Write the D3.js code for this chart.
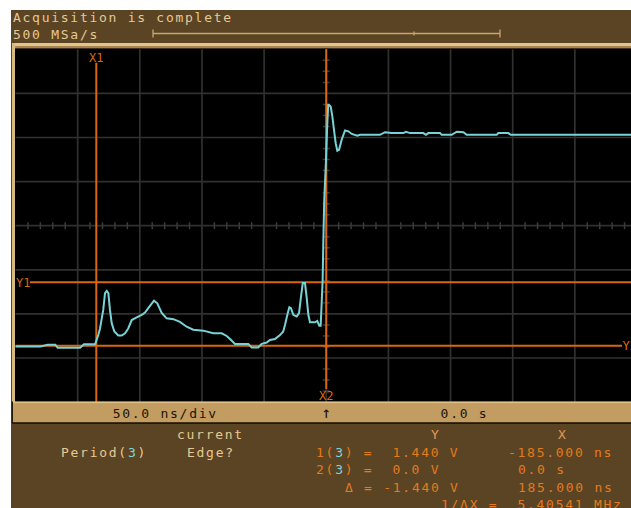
<!DOCTYPE html>
<html>
<head>
<meta charset="utf-8">
<script src="https://cdn.jsdelivr.net/npm/d3@7"></script>
<style>
  html, body { margin: 0; padding: 0; background: #ffffff; }
  svg { display: block; }
  text { font-family: "DejaVu Sans Mono", "Liberation Mono", monospace; white-space: pre; }
</style>
</head>
<body>
<svg id="scope" width="631" height="508"></svg>
<script>
// ---- captured trace: time (ns) and channel 3 voltage (V) ----
const timeNs = [
  -250, -230, -224, -218, -216, -198, -195, -186, -185, -183.4,
  -182.0, -180.6, -179.4, -178.0, -176.6, -175.3, -174.0, -172.6, -170.5, -167.3,
  -164.6, -161.9, -159.3, -156.5, -152.5, -148.5, -145.8, -143.2, -138.6, -135.9,
  -132.4, -128.4, -123.0, -117.7, -112.3, -107.0, -98.9, -90.9, -84.1, -80.1,
  -77.4, -73.4, -62.7, -60.0, -54.7, -51.9, -47.9, -45.3, -41.2, -37.2,
  -34.6, -33.2, -31.3, -29.7, -28.4, -26.5, -23.8, -21.9, -20.3, -18.9,
  -17.1, -15.7, -14.4, -13.1, -9.1, -7.2, -5.6, -4.5, -3.7, -2.9,
  -2.4, -1.6, -0.2, 0.8, 1.6, 2.2, 3.6, 4.9, 6.2, 7.6,
  8.9, 10.3, 12.4, 15.1, 17.8, 20.5, 25.0, 27.2, 43.2, 47.3,
  52.6, 62.0, 64.2, 67.4, 78.1, 80.2, 82.1, 91.5, 92.9, 100.9,
  105.0, 110.3, 113.0, 137.1, 138.4, 146.5, 148.4, 250
];
const volts = [
  -0.02, -0.02, 0.02, 0.02, -0.05, -0.05, 0.03, 0.03, 0.11, 0.24,
  0.39, 0.62, 0.81, 1.19, 1.24, 1.19, 0.81, 0.51, 0.32, 0.23,
  0.23, 0.28, 0.39, 0.58, 0.64, 0.70, 0.75, 0.85, 1.02, 0.96,
  0.74, 0.62, 0.60, 0.54, 0.43, 0.36, 0.34, 0.28, 0.28, 0.22,
  0.15, 0.04, 0.04, -0.04, -0.04, 0.04, 0.07, 0.13, 0.15, 0.24,
  0.32, 0.47, 0.70, 0.87, 0.85, 0.70, 0.66, 0.74, 1.11, 1.42,
  1.42, 1.08, 0.70, 0.53, 0.53, 0.56, 0.45, 0.45, 0.96, 1.49,
  2.29, 3.32, 4.21, 5.01, 5.46, 5.46, 5.42, 5.20, 4.90, 4.59,
  4.42, 4.44, 4.67, 4.88, 4.86, 4.80, 4.76, 4.78, 4.78, 4.84,
  4.82, 4.82, 4.85, 4.82, 4.82, 4.78, 4.82, 4.82, 4.78, 4.78,
  4.85, 4.84, 4.78, 4.78, 4.82, 4.82, 4.78, 4.78
];

// ---- display settings ----
const timeWindow = [-250, 250];      // 50 ns/div, 10 divisions
const voltWindow = [-1.28, 6.72];    // 1 V/div, 8 divisions
const xCursors = [{ name: "X1", t: -185 }, { name: "X2", t: 0 }];
const yCursors = [{ name: "Y1", v: 1.44 }, { name: "Y2", v: 0.0 }];

const headerLines = ["Acquisition is complete", "500 MSa/s"];
const statusLabels = ["50.0 ns/div", "\u2191", "0.0 s"];

// measurement readout rows: [text, colour key] pieces
const readoutRows = [
  [{ x: 177, parts: [["current", "tan"]] },
   { x: 431, parts: [["Y", "hdr"]] },
   { x: 558, parts: [["X", "hdr"]] }],
  [{ x: 61, parts: [["Period(", "tan"], ["3", "cyan"], [")", "tan"]] },
   { x: 187, parts: [["Edge?", "tan"]] },
   { x: 316, parts: [["1(", "org"], ["3", "cyan"], [") =  1.440 V", "org"]] },
   { x: 508, parts: [["-185.000 ns", "org"]] }],
  [{ x: 316, parts: [["2(", "org"], ["3", "cyan"], [") =  0.0 V", "org"]] },
   { x: 518, parts: [["0.0 s", "org"]] }],
  [{ x: 345, parts: [["\u0394 = -1.440 V", "org"]] },
   { x: 518, parts: [["185.000 ns", "org"]] }],
  [{ x: 441, parts: [["1/\u0394X =  5.40541 MHz", "org"]] }]
];

const colours = {
  panel: "#5b4424",
  tanText: "#e6c994",
  hdr: "#e39a52",
  org: "#e27a1e",
  cyan: "#7fd6dc",
  trace: "#79d3d6",
  cursor: "#d9670e",
  grid: "#303030",
  bar: "#c29c61",
  barText: "#1c1408"
};
const colourOf = { tan: colours.tanText, hdr: colours.hdr, org: colours.org, cyan: colours.cyan };

const svg = d3.select("#scope");

// ---- instrument panel ----
svg.append("rect").attr("x", 11).attr("y", 10).attr("width", 620).attr("height", 498)
  .attr("fill", colours.panel);

// header
const hdr = svg.append("g");
hdr.selectAll("text").data(headerLines).join("text")
  .attr("x", 13).attr("y", (d, i) => 21.5 + i * 17)
  .attr("font-size", 13).attr("letter-spacing", 1.73)
  .attr("fill", colours.tanText).text(d => d);

// record-length bar in header
const barG = hdr.append("g").attr("stroke", "#c8a56c").attr("stroke-width", 1.3);
barG.append("line").attr("x1", 153).attr("x2", 500).attr("y1", 33.5).attr("y2", 33.5);
[153, 500].forEach(px => barG.append("line").attr("x1", px).attr("x2", px).attr("y1", 29.5).attr("y2", 37.5));
barG.append("line").attr("x1", 414).attr("x2", 414).attr("y1", 31.5).attr("y2", 35.5);

// ---- graticule area ----
const plotLeft = 15.5, plotTop = 49.3, divW = 62.15, divH = 44.1;
const x = d3.scaleLinear().domain(timeWindow).range([plotLeft, plotLeft + 10 * divW]);
const y = d3.scaleLinear().domain(voltWindow).range([plotTop + 8 * divH, plotTop]);
const plotBottom = plotTop + 8 * divH;

// frame: light border around the screen
svg.append("rect").attr("x", 12).attr("y", 43).attr("width", 640).attr("height", 3)
  .attr("fill", "#e3c58a");
svg.append("rect").attr("x", 12).attr("y", 46).attr("width", 640).attr("height", 2.5)
  .attr("fill", "#a88450");
svg.append("rect").attr("x", 12).attr("y", 43).attr("width", 3.2).attr("height", 360)
  .attr("fill", "#d8b97e");
svg.append("rect").attr("x", 15).attr("y", 48.5).attr("width", 630).attr("height", plotBottom - 48.5)
  .attr("fill", "#000");

svg.append("defs").append("clipPath").attr("id", "screen")
  .append("rect").attr("x", 15).attr("y", 48.5).attr("width", 630).attr("height", plotBottom - 48.5);

const screen = svg.append("g").attr("clip-path", "url(#screen)");

// grid lines
const xDivs = d3.range(timeWindow[0], timeWindow[1] + 1, 50);
const yDivs = d3.range(0, 9).map(i => voltWindow[0] + i);
screen.append("g").selectAll("line").data(xDivs.slice(1)).join("line")
  .attr("x1", d => x(d)).attr("x2", d => x(d)).attr("y1", plotTop).attr("y2", plotBottom)
  .attr("stroke", colours.grid).attr("stroke-width", 1.7);
screen.append("g").selectAll("line").data(yDivs.slice(1, 8)).join("line")
  .attr("x1", plotLeft).attr("x2", 640).attr("y1", d => y(d)).attr("y2", d => y(d))
  .attr("stroke", colours.grid).attr("stroke-width", 1.7);

// minor ticks on the centre axes
const centreT = (timeWindow[0] + timeWindow[1]) / 2;
const centreV = (voltWindow[0] + voltWindow[1]) / 2;
const hTicks = d3.range(-25, 26).filter(k => k % 5 !== 0).map(k => k * 10);
const vTicks = d3.range(-16, 17).filter(k => k % 4 !== 0).map(k => centreV + k * 0.25);
screen.append("g").selectAll("line").data(hTicks).join("line")
  .attr("x1", d => x(d)).attr("x2", d => x(d))
  .attr("y1", y(centreV) - 3.5).attr("y2", y(centreV) + 3.5)
  .attr("stroke", "#3a3a3a").attr("stroke-width", 1.5);
screen.append("g").selectAll("line").data(vTicks).join("line")
  .attr("x1", x(centreT) - 3.5).attr("x2", x(centreT) + 3.5)
  .attr("y1", d => y(d)).attr("y2", d => y(d))
  .attr("stroke", "#3a3a3a").attr("stroke-width", 1.5);

// cursors
const xSpan = { X1: [62.8, plotBottom], X2: [plotTop, 389] };
screen.append("g").selectAll("line").data(xCursors).join("line")
  .attr("x1", d => x(d.t)).attr("x2", d => x(d.t))
  .attr("y1", d => xSpan[d.name][0]).attr("y2", d => xSpan[d.name][1])
  .attr("stroke", colours.cursor).attr("stroke-width", 2);
const ySpan = { Y1: [30, 640], Y2: [plotLeft, 622] };
screen.append("g").selectAll("line").data(yCursors).join("line")
  .attr("x1", d => ySpan[d.name][0]).attr("x2", d => ySpan[d.name][1])
  .attr("y1", d => y(d.v)).attr("y2", d => y(d.v))
  .attr("stroke", colours.cursor).attr("stroke-width", 2);

// trace
const line = d3.line().x(d => x(d[0])).y(d => y(d[1]));
screen.append("path").datum(d3.zip(timeNs, volts))
  .attr("d", line).attr("fill", "none")
  .attr("stroke", colours.trace).attr("stroke-width", 2)
  .attr("stroke-linejoin", "miter");

// cursor labels
const labelG = svg.append("g").attr("font-size", 12).attr("fill", colours.cursor);
labelG.append("text").attr("x", x(xCursors[0].t)).attr("y", 61.5)
  .attr("text-anchor", "middle").text(xCursors[0].name);
labelG.append("text").attr("x", x(xCursors[1].t)).attr("y", 399.5)
  .attr("text-anchor", "middle").text(xCursors[1].name);
labelG.append("text").attr("x", 16).attr("y", y(yCursors[0].v) + 4.5).text(yCursors[0].name);
labelG.append("text").attr("x", 622.5).attr("y", y(yCursors[1].v) + 4.5).text(yCursors[1].name);

// ---- status bar ----
svg.append("rect").attr("x", 12).attr("y", plotBottom - 0.5).attr("width", 640).attr("height", 21)
  .attr("fill", colours.bar);
svg.append("rect").attr("x", 12).attr("y", plotBottom - 0.5).attr("width", 640).attr("height", 1.5)
  .attr("fill", "#e0c288");
svg.append("line").attr("x1", 12).attr("x2", 640).attr("y1", plotBottom + 21).attr("y2", plotBottom + 21)
  .attr("stroke", "#231a0c").attr("stroke-width", 1.6);
svg.append("line").attr("x1", 12.3).attr("x2", 12.3).attr("y1", plotBottom - 0.5).attr("y2", plotBottom + 21)
  .attr("stroke", "#231a0c").attr("stroke-width", 1.4);

const statusX = [112.7, x(xCursors[1].t), 440.6];
svg.append("g").selectAll("text").data(statusLabels).join("text")
  .attr("x", (d, i) => statusX[i]).attr("y", (d, i) => plotBottom + (i === 1 ? 16 : 15.5))
  .attr("text-anchor", (d, i) => i === 1 ? "middle" : "start")
  .attr("font-size", (d, i) => i === 1 ? 16 : 13)
  .attr("letter-spacing", (d, i) => i === 1 ? 0 : 1.73)
  .attr("fill", colours.barText).text(d => d);

// ---- measurement readout ----
const readout = svg.append("g").attr("font-size", 13).attr("letter-spacing", 1.73);
readoutRows.forEach((row, r) => {
  row.forEach(cell => {
    const t = readout.append("text").attr("x", cell.x).attr("y", 439 + r * 17.5);
    cell.parts.forEach(([s, c]) => t.append("tspan").attr("fill", colourOf[c]).text(s));
  });
});
</script>
</body>
</html>
